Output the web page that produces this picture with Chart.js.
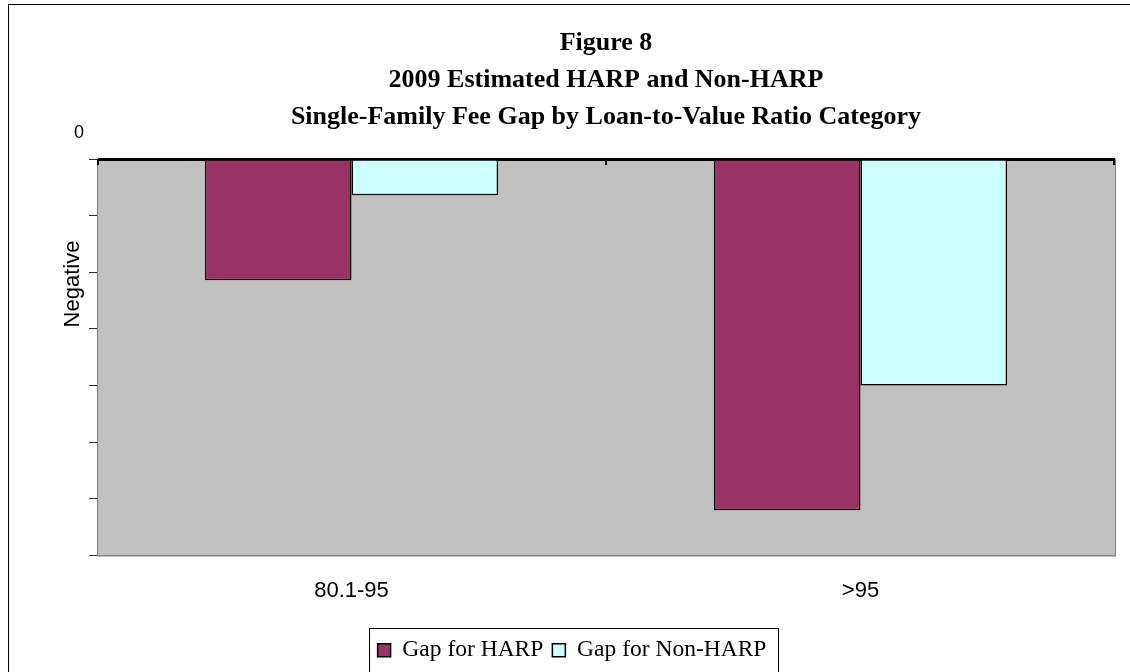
<!DOCTYPE html>
<html>
<head>
<meta charset="utf-8">
<title>Figure 8</title>
<script src="https://cdn.jsdelivr.net/npm/chart.js@4/dist/chart.umd.min.js"></script>
<style>
  html, body { margin: 0; padding: 0; background: #fff; overflow: hidden; }
  #wrap { position: relative; width: 1130px; height: 672px; }
</style>
</head>
<body>
<div id="wrap"><canvas id="myChart" width="1130" height="672"></canvas></div>
<script>
// data (units unknown, axis only says "Negative")
const categories = ['80.1-95', '>95'];
const harpGap = [-2.14, -6.2];
const nonHarpGap = [-0.64, -4.0];
const seriesNames = ['Gap for HARP', 'Gap for Non-HARP'];
const titleLines = ['Figure 8', '2009 Estimated HARP and Non-HARP', 'Single-Family Fee Gap by Loan-to-Value Ratio Category'];
const yAxisTitle = 'Negative';

const serif = "'Liberation Serif', 'Times New Roman', serif";
const sans = "'Liberation Sans', Arial, sans-serif";

// grey plot background, outer frame, y title, category ticks and box round the legend
const decor = {
  id: 'decor',
  beforeDraw(chart) {
    const c = chart.ctx;
    const a = chart.chartArea;
    c.save();
    c.fillStyle = '#fff';
    c.fillRect(0, 0, chart.width, chart.height);
    c.strokeStyle = '#000';
    c.lineWidth = 1;
    c.strokeRect(8.5, 4.5, chart.width + 20, chart.height + 20);
    c.fillStyle = '#c0c0c0';
    c.fillRect(a.left, a.top, a.right - a.left, a.bottom - a.top);
    c.strokeStyle = '#808080';
    c.strokeRect(a.left + 0.5, a.top + 0.5, a.right - a.left, a.bottom - a.top);
    c.restore();
  },
  afterDraw(chart) {
    const c = chart.ctx;
    const a = chart.chartArea;
    const x = chart.scales.x;
    const y0 = chart.scales.y.getPixelForValue(0);

    // tick marks of the category axis, which sits on the zero line
    c.save();
    c.strokeStyle = '#000';
    c.lineWidth = 2;
    const edges = [a.left + 1, a.right - 1];
    for (let i = 0; i < categories.length - 1; i++) {
      edges.push((x.getPixelForValue(i) + x.getPixelForValue(i + 1)) / 2);
    }
    edges.forEach(px => {
      c.beginPath();
      c.moveTo(px, y0);
      c.lineTo(px, y0 + 6);
      c.stroke();
    });
    c.restore();

    c.save();
    c.translate(73, 284);
    c.rotate(-Math.PI / 2);
    c.font = '22px ' + sans;
    c.fillStyle = '#000';
    c.textAlign = 'center';
    c.textBaseline = 'middle';
    c.fillText(yAxisTitle, 0, 0);
    c.restore();

    const lg = chart.legend;
    if (lg && lg.legendHitBoxes && lg.legendHitBoxes.length) {
      const hb = lg.legendHitBoxes;
      const first = hb[0];
      const last = hb[hb.length - 1];
      const x1 = Math.round(first.left - 9) + 0.5;
      const x2 = Math.round(last.left + last.width + 12) + 0.5;
      c.save();
      c.strokeStyle = '#000';
      c.lineWidth = 1;
      c.strokeRect(x1, Math.round(lg.top - 2) + 0.5, x2 - x1, chart.height);
      c.restore();
    }
  }
};

window.onload = function() {
  const ctx = document.getElementById('myChart').getContext('2d');
  new Chart(ctx, {
    type: 'bar',
    data: {
      labels: categories,
      datasets: [
        {
          label: seriesNames[0],
          data: harpGap,
          backgroundColor: '#993366',
          borderColor: '#000',
          borderWidth: 1.5
        },
        {
          label: seriesNames[1],
          data: nonHarpGap,
          backgroundColor: '#ccffff',
          borderColor: '#000',
          borderWidth: 1.5
        }
      ]
    },
    options: {
      responsive: false,
      animation: false,
      devicePixelRatio: 1,
      layout: { padding: { left: 29, right: 15, top: 0, bottom: 0 } },
      datasets: {
        bar: { categoryPercentage: 0.576, barPercentage: 1.0 }
      },
      plugins: {
        title: {
          display: true,
          text: titleLines,
          fullSize: false,
          color: '#000',
          font: { family: serif, size: 26, weight: 'bold', lineHeight: 37 / 26 },
          padding: { top: 25, bottom: 23 }
        },
        legend: {
          position: 'bottom',
          labels: {
            color: '#000',
            font: { family: serif, size: 23.5 },
            boxWidth: 13,
            boxHeight: 13,
            padding: 9
          }
        },
        tooltip: { enabled: false }
      },
      scales: {
        x: {
          grid: { display: false, drawTicks: false, tickLength: 0 },
          border: { color: '#808080', width: 1 },
          ticks: {
            color: '#000',
            font: { family: sans, size: 22 },
            padding: 22
          },
          afterFit(scale) { scale.height = 74; }
        },
        y: {
          min: -7,
          max: 0,
          grid: {
            color: c => c.tick && c.tick.value === 0 ? '#000' : 'rgba(0,0,0,0)',
            lineWidth: c => c.tick && c.tick.value === 0 ? 3 : 1,
            tickColor: '#333',
            tickWidth: 1,
            tickLength: 8
          },
          border: { color: '#808080', width: 1 },
          ticks: {
            stepSize: 1,
            color: '#000',
            font: { family: sans, size: 18 },
            padding: 5,
            labelOffset: -26,
            callback: v => v === 0 ? '0' : ''
          },
          afterFit(scale) { scale.width = 68; }
        }
      }
    },
    plugins: [decor]
  });
};
</script>
</body>
</html>
